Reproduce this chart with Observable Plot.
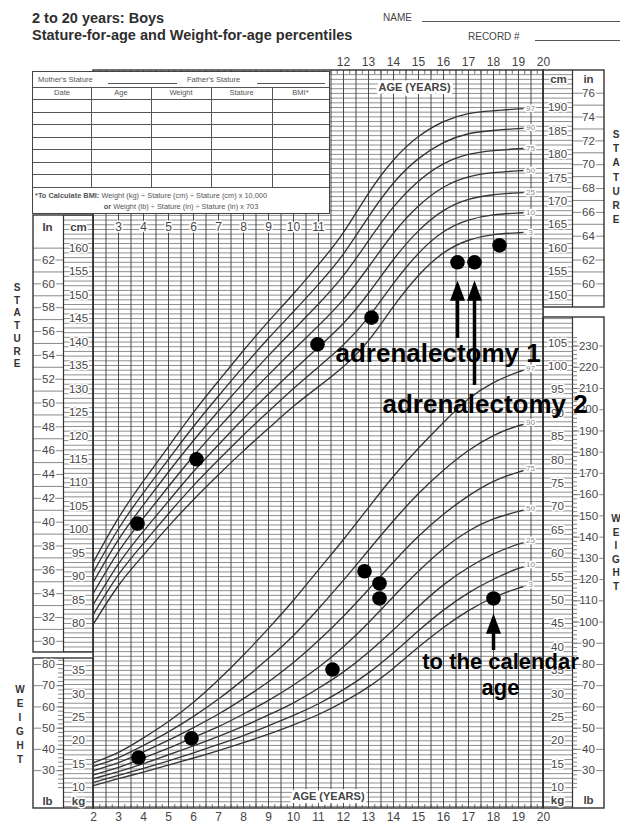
<!DOCTYPE html>
<html>
<head>
<meta charset="utf-8">
<script src="https://cdn.jsdelivr.net/npm/d3@7"></script>
<script src="https://cdn.jsdelivr.net/npm/@observablehq/plot@0.6"></script>
<style>
  html,body{margin:0;padding:0;background:#fff;}
  #wrap{position:relative;width:620px;height:825px;overflow:hidden;font-family:"Liberation Sans",Arial,sans-serif;}
  #wrap > svg{position:absolute;left:0;top:0;}
  #wrap svg text{paint-order:stroke;}
  .abs{position:absolute;white-space:nowrap;line-height:1;}
  .title{font-weight:bold;font-size:14.5px;color:#2e2e2e;}
  .small{font-size:10px;color:#444;}
  .rule{position:absolute;height:0;border-top:1px solid #555;}
  .stack{position:absolute;font-weight:bold;font-size:10px;color:#333;text-align:center;width:12px;}
  #tbl{position:absolute;left:32px;top:71px;width:298px;height:143px;background:#fff;border:1.3px solid #444;box-sizing:border-box;font-size:7.5px;color:#555;}
  #tbl .h{position:absolute;height:0;border-top:1px solid #555;}
  #tbl .v{position:absolute;width:0;border-left:1px solid #555;}
  #tbl .t{position:absolute;line-height:1;white-space:nowrap;}
</style>
</head>
<body>
<div id="wrap"></div>
<script>
// ---------------- data ----------------
const ages = [2,3,4,5,6,7,8,9,10,11,12,13,14,15,16,17,18,19,20];
const percentiles = ["3","10","25","50","75","90","97"];

// stature-for-age percentiles (cm)
const stature3  = [79.9, 88.1, 94.6,100.7,106.4,111.7,116.8,121.6,126.3,130.5,134.8,140.3,147.6,154.2,159.0,161.7,162.9,163.3,163.6];
const stature10 = [82.0, 90.4, 97.1,103.4,109.4,114.9,120.2,125.2,130.1,134.7,139.4,145.3,152.5,158.9,163.5,166.0,167.1,167.5,167.8];
const stature25 = [84.1, 92.7, 99.7,106.1,112.4,118.1,123.7,128.9,134.0,138.9,144.0,150.4,157.6,163.7,168.0,170.4,171.4,171.8,172.1];
const stature50 = [86.5, 95.3,102.5,109.2,115.7,121.7,127.5,133.0,138.3,143.5,149.1,156.0,163.2,169.0,173.0,175.2,176.1,176.5,176.8];
const stature75 = [88.9, 97.9,105.3,112.3,119.0,125.3,131.3,137.1,142.6,148.1,154.2,161.6,168.8,174.3,178.0,180.0,180.8,181.2,181.5];
const stature90 = [91.0,100.2,107.9,115.0,122.0,128.5,134.8,140.8,146.5,152.3,158.8,166.7,173.9,179.1,182.5,184.4,185.1,185.5,185.8];
const stature97 = [93.1,102.5,110.4,117.7,125.0,131.7,138.2,144.4,150.3,156.5,163.4,171.7,178.8,183.8,187.0,188.7,189.3,189.7,190.0];

// weight-for-age percentiles (kg)
const weight3  = [10.4,11.9,13.3,14.8,16.3,17.9,19.6,21.4,23.4,25.6,28.3,31.5,35.5,40.0,44.2,47.8,50.6,52.6,54.0];
const weight10 = [11.1,12.6,14.1,15.7,17.4,19.2,21.1,23.2,25.4,27.9,30.9,34.5,38.8,43.5,47.9,51.6,54.5,56.8,58.4];
const weight25 = [11.9,13.4,15.1,17.0,18.9,20.9,23.1,25.5,28.1,31.2,34.7,38.9,43.7,48.7,53.3,57.0,59.9,62.0,63.6];
const weight50 = [12.7,14.3,16.3,18.4,20.7,23.0,25.7,28.6,31.9,35.7,40.1,45.2,50.8,56.2,61.0,64.8,67.4,69.0,70.4];
const weight75 = [13.6,15.3,17.6,20.1,22.8,25.7,29.0,32.6,36.7,41.4,46.6,52.3,58.2,63.7,68.4,72.3,75.4,77.4,78.8];
const weight90 = [14.5,16.4,19.0,21.9,25.2,28.9,33.1,37.6,42.5,48.2,54.3,60.7,67.0,72.8,77.8,82.0,85.2,87.3,88.6];
const weight97 = [15.3,17.5,20.6,24.1,28.2,33.0,38.3,44.0,50.0,56.5,63.0,69.8,76.5,82.5,88.0,93.0,96.5,98.8,100.5];

// patient measurements
const statureVisitAge = [3.76, 6.12, 10.96, 13.12, 16.56, 17.24, 18.24];
const statureVisitCm  = [101.3, 115.0, 139.5, 145.2, 157.0, 157.0, 160.6];
const weightVisitAge  = [3.8, 5.92, 11.56, 12.84, 13.44, 13.44, 18.0];
const weightVisitKg   = [16.4, 20.5, 35.2, 56.2, 53.6, 50.4, 50.4];

// tick labels
const cmTicksLeft  = [80,85,90,95,100,105,110,115,120,125,130,135,140,145,150,155,160];
const cmTicksRight = [150,155,160,165,170,175,180,185,190];
const inTicksLeft  = [30,32,34,36,38,40,42,44,46,48,50,52,54,56,58,60,62];
const inTicksRight = [60,62,64,66,68,70,72,74,76];
const kgTicksLeft  = [10,15,20,25,30,35];
const kgTicksRight = [10,15,20,25,30,35,40,45,50,55,60,65,70,75,80,85,90,95,100,105];
const lbTicksLeft  = [30,40,50,60,70,80];
const lbTicksRight = [30,40,50,60,70,80,90,100,110,120,130,140,150,160,170,180,190,200,210,220,230];
const ageTicksBottom = [2,3,4,5,6,7,8,9,10,11,12,13,14,15,16,17,18,19,20];
const ageTicksTop    = [12,13,14,15,16,17,18,19,20];
const ageTicksInner  = [3,4,5,6,7,8,9,10,11];
const annotationTexts = ["adrenalectomy 1", "adrenalectomy 2", "to the calendar\nage"];

// ---------------- layout ----------------
const W = 620, H = 825;
const FONT = '"Liberation Sans", Arial, sans-serif';
const X  = px => 2 + (px - 93) / 25;          // page x  -> age
const CM = px => 80 + (623 - px) / 4.691;     // page y  -> stature cm
const KG = px => 10 + (787 - px) / 4.68;      // page y  -> weight kg
const at = v => () => v;
const CURVE_END = 19.2, LABEL_AGE = 19.48;

const statureSeries = [stature3, stature10, stature25, stature50, stature75, stature90, stature97];
const weightSeries  = [weight3, weight10, weight25, weight50, weight75, weight90, weight97];
const longRows = series => percentiles.flatMap((p, i) => ages.map((a, j) => ({p, age: a, v: series[i][j]})));
const endRows = series => percentiles.map((p, i) => ({p, v: (series[i][ages.length - 2] + series[i][ages.length - 1]) / 2}));
const statureRows = longRows(statureSeries), weightRows = longRows(weightSeries);
const statureVisits = statureVisitAge.map((a, i) => ({age: a, cm: statureVisitCm[i]}));
const weightVisits = weightVisitAge.map((a, i) => ({age: a, kg: weightVisitKg[i]}));

const halo = {stroke: "white", strokeWidth: 3};
const axisText = {fontSize: 11.5, fill: "#474747", ...halo};

const arrowHead = {draw(ctx, size) {
  const r = Math.sqrt(size / Math.PI);
  ctx.moveTo(0, -1.35 * r); ctx.lineTo(r, 1.35 * r); ctx.lineTo(-r, 1.35 * r); ctx.closePath();
}};

// frames (page px) for boxes
const frames = [
  {l: 93, r: 543, t: 70, b: 808},
  {l: 33, r: 93, t: 215, b: 652},
  {l: 33, r: 93, t: 658, b: 808},
  {l: 543, r: 604, t: 70, b: 307},
  {l: 543, r: 604, t: 317, b: 808}
];
const dividers = [
  {x: 63, t: 215, b: 652}, {x: 63, t: 658, b: 808},
  {x: 572, t: 70, b: 307}, {x: 572, t: 317, b: 808}
];
const gaps = [{l: 30, r: 92.4, t: 652, b: 658}, {l: 543.6, r: 607, t: 307, b: 317}];

const commonX = {domain: [2, 20], axis: null};
const base = {width: W, height: H, marginLeft: 93, marginRight: 77, marginTop: 0, marginBottom: 0};

// ---------------- stature plot ----------------
const S = Plot.plot({
  ...base,
  x: commonX,
  y: {domain: [CM(H), CM(0)], axis: null},
  style: {background: "white", fontFamily: FONT, overflow: "visible"},
  marks: [
    Plot.ruleY(d3.range(41, 198), {y: d => d, x1: at(X(63)), x2: at(X(572)), stroke: "#727272", strokeWidth: 0.8}),
    Plot.ruleX(d3.range(2, 20.001, 0.5), {x: d => d, y1: at(CM(808)), y2: at(CM(70)), stroke: "#4a4a4a", strokeWidth: 1}),
    Plot.ruleX(d3.range(2, 20.001, 0.25), {x: d => d, y1: at(CM(70)), y2: at(CM(74)), stroke: "#525252", strokeWidth: 0.8}),
    Plot.ruleX(d3.range(2, 20.001, 0.25), {x: d => d, y1: at(CM(808)), y2: at(CM(804)), stroke: "#525252", strokeWidth: 0.8}),
    Plot.ruleY(d3.range(30, 64), {y: d => d * 2.54, x1: at(X(33)), x2: at(X(63)), stroke: "#6a6a6a", strokeWidth: 0.8}),
    Plot.ruleY(d3.range(59, 77), {y: d => d * 2.54, x1: at(X(572)), x2: at(X(604)), stroke: "#6a6a6a", strokeWidth: 0.8}),
    Plot.rect(gaps, {x1: d => X(d.l), x2: d => X(d.r), y1: d => CM(d.b), y2: d => CM(d.t), fill: "white"}),
    Plot.rect(frames, {x1: d => X(d.l), x2: d => X(d.r), y1: d => CM(d.b), y2: d => CM(d.t), fill: "none", stroke: "#333", strokeWidth: 1.4}),
    Plot.ruleX(dividers, {x: d => X(d.x), y1: d => CM(d.b), y2: d => CM(d.t), stroke: "#333", strokeWidth: 1.2}),
    // percentile curves
    Plot.line(statureRows, {x: "age", y: "v", z: "p", stroke: "#353535", strokeWidth: 1.35, curve: "natural"}),
    Plot.text(endRows(statureSeries), {x: at(LABEL_AGE), y: "v", text: "p", fontSize: 8, fill: "#8a8a8a", stroke: "white", strokeWidth: 3}),
    // axes
    Plot.text(cmTicksLeft, {x: at(X(78)), y: d => d, text: d => d, ...axisText}),
    Plot.text(cmTicksRight, {x: at(X(557)), y: d => d, text: d => d, ...axisText}),
    Plot.text(inTicksLeft, {x: at(X(48)), y: d => d * 2.54, text: d => d, ...axisText}),
    Plot.text(inTicksRight, {x: at(X(588)), y: d => d * 2.54, text: d => d, ...axisText}),
    Plot.text(ageTicksBottom, {x: d => d, y: at(CM(817)), text: d => d, fontSize: 12, fill: "#444"}),
    Plot.text(ageTicksTop, {x: d => d, y: at(CM(62)), text: d => d, fontSize: 12, fill: "#444"}),
    Plot.text(ageTicksInner, {x: d => d, y: at(CM(227)), text: d => d, ...axisText, fontSize: 12}),
    Plot.text(["In"], {x: at(X(47)), y: at(CM(227)), text: d => d, fontSize: 11.5, fontWeight: "bold", fill: "#444", ...halo}),
    Plot.text(["cm"], {x: at(X(78)), y: at(CM(227)), text: d => d, fontSize: 11.5, fontWeight: "bold", fill: "#444", ...halo}),
    Plot.text(["cm"], {x: at(X(558)), y: at(CM(79)), text: d => d, fontSize: 11.5, fontWeight: "bold", fill: "#444", ...halo}),
    Plot.text(["in"], {x: at(X(588)), y: at(CM(79)), text: d => d, fontSize: 11.5, fontWeight: "bold", fill: "#444", ...halo}),
    Plot.text(["AGE (YEARS)"], {x: at(X(414)), y: at(CM(87)), text: d => d, fontSize: 11, fontWeight: "bold", fill: "#444", stroke: "white", strokeWidth: 6}),
    Plot.text(["AGE (YEARS)"], {x: at(X(328)), y: at(CM(796)), text: d => d, fontSize: 11, fontWeight: "bold", fill: "#444", stroke: "white", strokeWidth: 6}),
    // patient stature
    Plot.dot(statureVisits, {x: "age", y: "cm", r: 7.3, fill: "#000"}),
    Plot.ruleX([statureVisitAge[4], statureVisitAge[5]], {x: d => d, y1: (d, i) => CM(i ? 385 : 338), y2: at(CM(296)), stroke: "#000", strokeWidth: 3.5}),
    Plot.dot([statureVisitAge[4], statureVisitAge[5]], {x: d => d, y: at(CM(290)), r: 7.5, symbol: arrowHead, fill: "#000"})
  ]
});

// ---------------- weight plot ----------------
const Wt = Plot.plot({
  ...base,
  x: commonX,
  y: {domain: [KG(H), KG(0)], axis: null},
  style: {background: "transparent", fontFamily: FONT, overflow: "visible"},
  marks: [
    Plot.ruleY(lbTicksLeft, {y: d => d / 2.2046, x1: at(X(33)), x2: at(X(63)), stroke: "#6a6a6a", strokeWidth: 0.8}),
    Plot.ruleY(d3.range(22, 83, 2), {y: d => d / 2.2046, x1: at(X(58)), x2: at(X(63)), stroke: "#6a6a6a", strokeWidth: 0.8}),
    Plot.ruleY(lbTicksRight, {y: d => d / 2.2046, x1: at(X(572)), x2: at(X(604)), stroke: "#6a6a6a", strokeWidth: 0.8}),
    Plot.ruleY(d3.range(22, 235, 2), {y: d => d / 2.2046, x1: at(X(572)), x2: at(X(577)), stroke: "#6a6a6a", strokeWidth: 0.8}),
    Plot.line(weightRows, {x: "age", y: "v", z: "p", stroke: "#353535", strokeWidth: 1.35, curve: "natural"}),
    Plot.text(endRows(weightSeries), {x: at(LABEL_AGE), y: "v", text: "p", fontSize: 8, fill: "#8a8a8a", stroke: "white", strokeWidth: 3}),
    Plot.text(kgTicksLeft, {x: at(X(78)), y: d => d, text: d => d, ...axisText}),
    Plot.text(kgTicksRight, {x: at(X(557)), y: d => d, text: d => d, ...axisText}),
    Plot.text(lbTicksLeft, {x: at(X(48)), y: d => d / 2.2046, text: d => d, ...axisText}),
    Plot.text(lbTicksRight, {x: at(X(588)), y: d => d / 2.2046, text: d => d, ...axisText}),
    Plot.text(["lb"], {x: at(X(47)), y: at(KG(801)), text: d => d, fontSize: 11.5, fontWeight: "bold", fill: "#444", ...halo}),
    Plot.text(["kg"], {x: at(X(78)), y: at(KG(801)), text: d => d, fontSize: 11.5, fontWeight: "bold", fill: "#444", ...halo}),
    Plot.text(["kg"], {x: at(X(557)), y: at(KG(800)), text: d => d, fontSize: 11.5, fontWeight: "bold", fill: "#444", ...halo}),
    Plot.text(["lb"], {x: at(X(588)), y: at(KG(800)), text: d => d, fontSize: 11.5, fontWeight: "bold", fill: "#444", ...halo}),
    // patient weight
    Plot.dot(weightVisits, {x: "age", y: "kg", r: 7.3, fill: "#000"}),
    Plot.ruleX([weightVisitAge[6]], {x: d => d, y1: at(KG(650)), y2: at(KG(628)), stroke: "#000", strokeWidth: 3.5}),
    Plot.dot([weightVisitAge[6]], {x: d => d, y: at(KG(623)), r: 7.5, symbol: arrowHead, fill: "#000"}),
    // annotations
    Plot.text([annotationTexts[0]], {x: at(X(335)), y: at(KG(353)), text: d => d, textAnchor: "start", fontSize: 26, fontWeight: "bold", fill: "#000"}),
    Plot.text([annotationTexts[1]], {x: at(X(382)), y: at(KG(404)), text: d => d, textAnchor: "start", fontSize: 26, fontWeight: "bold", fill: "#000"}),
    Plot.text([annotationTexts[2]], {x: at(X(500)), y: at(KG(673)), text: d => d, fontSize: 22, fontWeight: "bold", fill: "#000", lineHeight: 1.2})
  ]
});

// clip percentile curves at their printed end
function clipCurves(svg, id) {
  const ns = "http://www.w3.org/2000/svg";
  const xEnd = svg.scale("x").apply(CURVE_END);
  const defs = document.createElementNS(ns, "defs");
  const cp = document.createElementNS(ns, "clipPath");
  cp.setAttribute("id", id);
  const r = document.createElementNS(ns, "rect");
  r.setAttribute("x", 0); r.setAttribute("y", 0);
  r.setAttribute("width", xEnd); r.setAttribute("height", H);
  cp.appendChild(r); defs.appendChild(cp); svg.insertBefore(defs, svg.firstChild);
  svg.querySelectorAll('g[aria-label="line"]').forEach(g => g.setAttribute("clip-path", `url(#${id})`));
}
clipCurves(S, "clipS");
clipCurves(Wt, "clipW");

const wrap = document.getElementById("wrap");
wrap.appendChild(S);
wrap.appendChild(Wt);

// ---------------- header, record table and side titles ----------------
function div(cls, text, style) {
  const d = document.createElement("div");
  d.className = cls; d.textContent = text; Object.assign(d.style, style); return d;
}
wrap.appendChild(div("abs title", "2 to 20 years: Boys", {left: "32px", top: "11px"}));
wrap.appendChild(div("abs title", "Stature-for-age and Weight-for-age percentiles", {left: "32px", top: "28px"}));
wrap.appendChild(div("abs small", "NAME", {left: "383px", top: "13px"}));
wrap.appendChild(div("rule", "", {left: "422px", top: "21px", width: "198px"}));
wrap.appendChild(div("abs small", "RECORD #", {left: "468px", top: "32px"}));
wrap.appendChild(div("rule", "", {left: "535px", top: "40px", width: "85px"}));

const tbl = document.createElement("div"); tbl.id = "tbl";
[15, 27, 40, 52, 65, 77, 90, 102, 115].forEach(y => tbl.appendChild(div("h", "", {left: "0px", width: "296px", top: y + "px"})));
[58, 118, 178, 239].forEach(x => tbl.appendChild(div("v", "", {left: x + "px", top: "15px", height: "100px"})));
tbl.appendChild(div("t", "Mother's Stature", {left: "5px", top: "4px"}));
tbl.appendChild(div("h", "", {left: "75px", width: "69px", top: "11px"}));
tbl.appendChild(div("t", "Father's Stature", {left: "154px", top: "4px"}));
tbl.appendChild(div("h", "", {left: "224px", width: "68px", top: "11px"}));
[["Date", 29], ["Age", 88], ["Weight", 148], ["Stature", 208.5], ["BMI*", 267.5]].forEach(([t, cx]) =>
  tbl.appendChild(div("t", t, {left: cx + "px", top: "21px", transform: "translate(-50%,-50%)"})));
const bmi1 = div("t", "", {left: "2px", top: "120px", fontSize: "7.4px"});
bmi1.innerHTML = "<b>*To Calculate BMI:</b> Weight (kg) ÷ Stature (cm) ÷ Stature (cm) x 10,000";
tbl.appendChild(bmi1);
const bmi2 = div("t", "", {left: "148px", top: "135px", fontSize: "7.4px", transform: "translate(-50%,-50%)"});
bmi2.innerHTML = "<b>or</b> Weight (lb) ÷ Stature (in) ÷ Stature (in) x 703";
tbl.appendChild(bmi2);
wrap.appendChild(tbl);

function stack(word, cx, top, step) {
  const d = div("stack", "", {left: (cx - 6) + "px", top: top + "px", lineHeight: step + "px"});
  d.innerHTML = word.split("").join("<br>");
  wrap.appendChild(d);
}
stack("STATURE", 17, 282, 12.7);
stack("WEIGHT", 20, 683, 14);
stack("STATURE", 616, 128, 14.2);
stack("WEIGHT", 616, 512, 13.6);
</script>
</body>
</html>
